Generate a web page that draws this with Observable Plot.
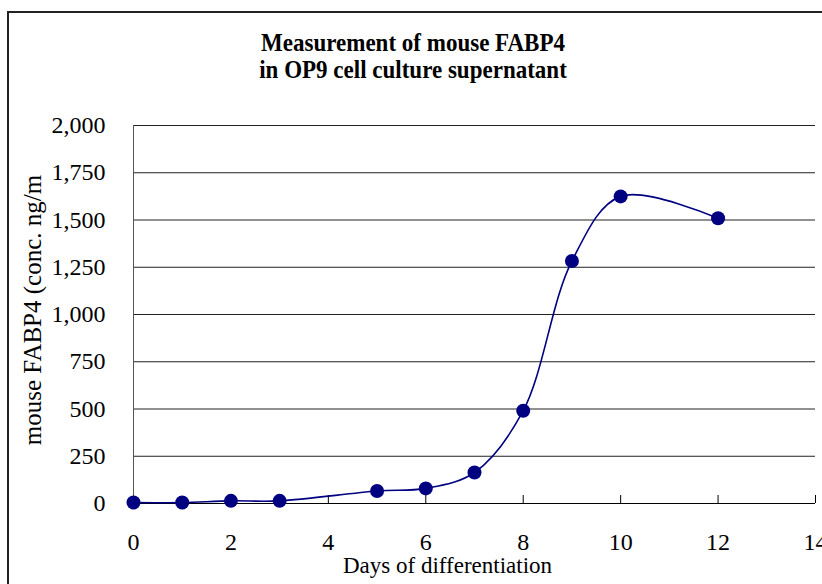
<!DOCTYPE html>
<html><head><meta charset="utf-8">
<script src="https://cdn.jsdelivr.net/npm/d3@7"></script>
<script src="https://cdn.jsdelivr.net/npm/@observablehq/plot@0.6"></script>
<style>html,body{margin:0;padding:0;background:#fff;overflow:hidden}</style>
</head><body><div id="chart"></div>
<script>
const days = [0, 1, 2, 3, 5, 6, 7, 8, 9, 10, 12];
const fabp4 = [5, 5, 14, 14, 66, 80, 164, 491, 1283, 1625, 1509];
const yTicks = [0, 250, 500, 750, 1000, 1250, 1500, 1750, 2000];
const xTicks = [0, 2, 4, 6, 8, 10, 12, 14];
const titleLines = ["Measurement of mouse FABP4", "in OP9 cell culture supernatant"];
const xLabel = "Days of differentiation";
const yLabel = "mouse FABP4 (conc. ng/m";

const data = days.map((d, i) => ({day: d, value: fabp4[i]}));
const navy = "#000080";
const serif = "'Liberation Serif', 'Times New Roman', serif";

const chart = Plot.plot({
  width: 822, height: 584,
  marginLeft: 133, marginRight: 7, marginTop: 125, marginBottom: 81,
  style: {fontFamily: serif, fontSize: "24px", color: "#000", background: "#fff", overflow: "visible"},
  x: {domain: [0, 14]},
  y: {domain: [0, 2000]},
  marks: [
    Plot.gridY(yTicks, {stroke: "#222", strokeOpacity: 1, strokeWidth: 1}),
    Plot.axisY(yTicks, {tickSize: 0, tickPadding: 28, tickFormat: d3.format(","), label: null}),
    Plot.axisX(xTicks, {tickSize: -8, tickPadding: 37, label: null}),
    Plot.ruleX([0], {stroke: "#555"}),
    Plot.ruleY([0], {stroke: "#000"}),
    Plot.line(data, {x: "day", y: "value", curve: "catmull-rom", stroke: navy, strokeWidth: 1.6}),
    Plot.dot(data, {x: "day", y: "value", r: 7, fill: navy, stroke: "none"})
  ]
});
document.getElementById("chart").appendChild(chart);

const svg = d3.select(chart);
svg.append("path")
  .attr("d", "M8,600V12H840")
  .attr("fill", "none").attr("stroke", "#222").attr("stroke-width", 2);
const tg = svg.append("g").attr("font-family", serif).attr("font-weight", "bold")
  .attr("font-size", 26).attr("text-anchor", "middle").attr("fill", "#000");
titleLines.forEach((t, i) => tg.append("text")
  .attr("transform", `translate(413,${51 + i * 27}) scale(0.885,1)`).text(t));
svg.append("text").attr("x", 447.5).attr("y", 573).attr("text-anchor", "middle")
  .attr("font-family", serif).attr("font-size", 23).attr("fill", "#000").text(xLabel);
svg.append("text").attr("transform", "translate(41,310) rotate(-90)").attr("text-anchor", "middle")
  .attr("font-family", serif).attr("font-size", 25).attr("fill", "#000").text(yLabel);
</script>
</body></html>
